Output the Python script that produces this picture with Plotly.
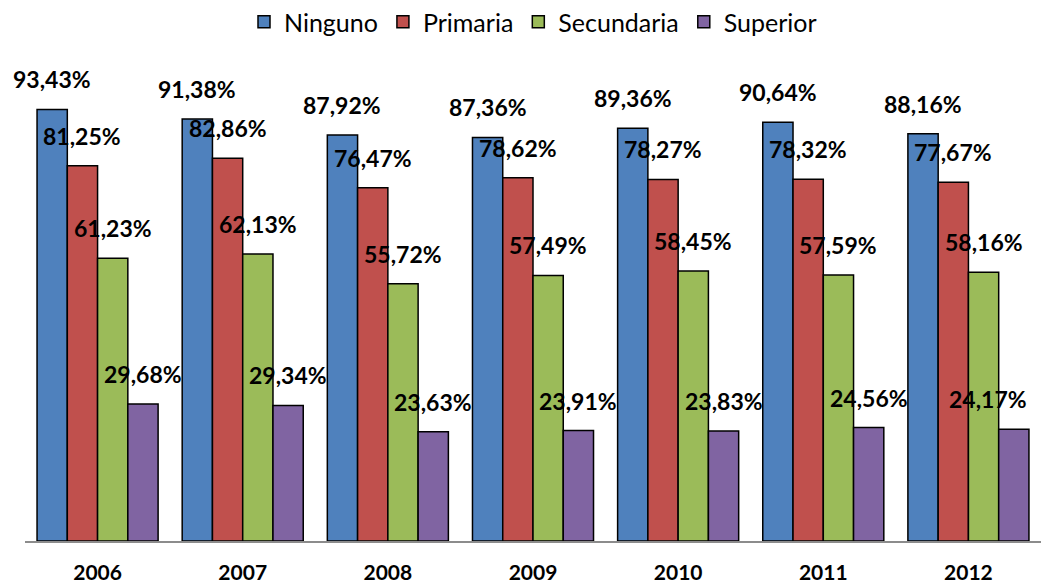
import plotly.graph_objects as go

years = ['2006', '2007', '2008', '2009', '2010', '2011', '2012']
ninguno = [93.43, 91.38, 87.92, 87.36, 89.36, 90.64, 88.16]
primaria = [81.25, 82.86, 76.47, 78.62, 78.27, 78.32, 77.67]
secundaria = [61.23, 62.13, 55.72, 57.49, 58.45, 57.59, 58.16]
superior = [29.68, 29.34, 23.63, 23.91, 23.83, 24.56, 24.17]

series = [
    ('Ninguno', ninguno, '#4F81BD'),
    ('Primaria', primaria, '#C0504D'),
    ('Secundaria', secundaria, '#9BBB59'),
    ('Superior', superior, '#8064A2'),
]

FONT = 'Lato, Calibri, Arial, sans-serif'


def pct(v):
    return f'{v:.2f}%'.replace('.', ',')


fig = go.Figure()
for name, vals, color in series:
    fig.add_trace(go.Bar(
        x=years, y=vals, name=name,
        marker=dict(color=color, line=dict(color='#000000', width=1.5)),
    ))

# page body has an 8px margin, so the figure is a bit smaller than the window
W, H = 1048, 577
ml, mr, mt, mb = 17, 15, 42, 44
plot_w = W - ml - mr
plot_h = H - mt - mb
cat_w = plot_w / len(years)
bar_w = cat_w * (1 - 0.166) / len(series)
label_half = 39  # approx half width of a label in px
right_limit = W - mr - 14

# data labels sit well above each bar, overlapping neighbours
# (category axis: annotation x given as the category index)
for i, (name, vals, color) in enumerate(series):
    for j, v in enumerate(vals):
        shift = (i - 1.5) * bar_w
        centre = ml + (j + 0.5) * cat_w + shift
        if centre + label_half > right_limit:
            shift -= centre + label_half - right_limit  # keep label inside chart
        fig.add_annotation(
            x=j, y=v, text=pct(v), showarrow=False,
            xshift=shift, yshift=30, yanchor='middle',
            font=dict(family=FONT, size=23, color='#000000', weight='bold'),
        )

fig.update_layout(
    width=W, height=H,
    margin=dict(l=ml, r=mr, t=mt, b=mb, autoexpand=False),
    plot_bgcolor='#ffffff', paper_bgcolor='#ffffff',
    barmode='group', bargap=0.166, bargroupgap=0,
    font=dict(family=FONT, size=20, color='#000000'),
    showlegend=True,
    legend=dict(orientation='h', x=0.5, xanchor='center', y=1 + (mt - 14) / plot_h,
                yanchor='middle', font=dict(family=FONT, size=25), itemwidth=30),
    xaxis=dict(type='category', range=[-0.5, len(years) - 0.5], showline=True,
               linecolor='#8c8c8c', linewidth=2, ticks='', ticklabelstandoff=12,
               automargin=False,
               tickfont=dict(family=FONT, size=21, weight='bold')),
    yaxis=dict(range=[0, 106.3], visible=False, showgrid=False, automargin=False),
)

fig.write_html('out.html')
